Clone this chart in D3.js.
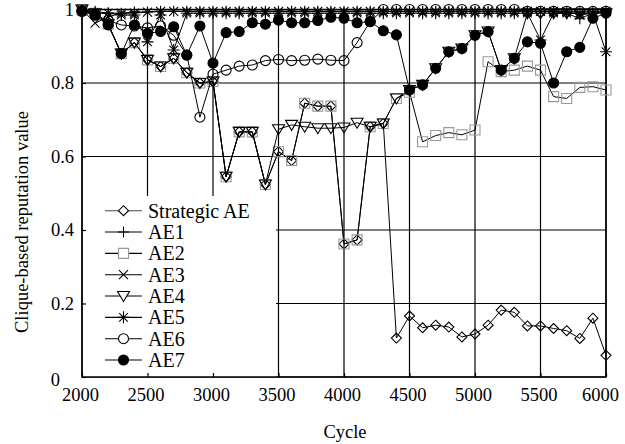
<!DOCTYPE html>
<html>
<head>
<meta charset="utf-8">
<script src="https://cdn.jsdelivr.net/npm/d3@7"></script>
<style>
  html, body { margin: 0; padding: 0; background: #fff; }
  svg { display: block; }
</style>
</head>
<body>
<svg id="chart" width="625" height="444"></svg>
<script>
const cycles = [2000,2100,2200,2300,2400,2500,2600,2700,2800,2900,3000,3100,3200,3300,3400,3500,3600,3700,3800,3900,4000,4100,4200,4300,4400,4500,4600,4700,4800,4900,5000,5100,5200,5300,5400,5500,5600,5700,5800,5900,6000];

const strategicAE = [1.0,0.99,0.96,0.88,0.91,0.863,0.845,0.867,0.828,0.80,0.804,0.545,0.667,0.667,0.524,0.613,0.589,0.745,0.737,0.737,0.362,0.373,0.681,0.69,0.106,0.166,0.134,0.141,0.136,0.109,0.117,0.141,0.182,0.176,0.139,0.139,0.132,0.126,0.105,0.16,0.059];
const ae1 = [1.0,0.995,0.99,0.99,0.993,0.993,0.995,0.995,0.995,0.995,0.995,0.995,0.995,0.995,0.995,0.995,0.995,0.995,0.995,0.995,0.995,0.995,0.995,0.995,0.995,0.995,0.995,0.995,0.995,0.995,0.995,0.995,0.995,0.995,0.995,0.995,0.995,0.99,0.975,0.99,0.995];
const ae2 = [1.0,0.99,0.96,0.88,0.91,0.863,0.845,0.867,0.828,0.80,0.804,0.545,0.667,0.667,0.524,0.613,0.589,0.745,0.737,0.737,0.362,0.373,0.681,0.69,0.758,0.775,0.64,0.657,0.665,0.659,0.672,0.858,0.831,0.835,0.846,0.835,0.763,0.758,0.788,0.79,0.781];
const ae3 = [1.0,0.963,0.98,0.99,0.99,0.993,0.995,0.995,0.995,0.995,0.995,0.995,0.995,0.995,0.995,0.995,0.995,0.995,0.995,0.995,0.995,0.995,0.995,0.995,0.995,0.995,0.995,0.995,0.995,0.995,0.995,0.995,0.995,0.995,0.995,0.995,0.995,0.995,0.985,0.99,0.995];
const ae4 = [1.0,0.99,0.96,0.88,0.91,0.863,0.845,0.867,0.828,0.80,0.804,0.545,0.667,0.667,0.524,0.674,0.686,0.681,0.677,0.677,0.679,0.692,0.681,0.69,0.758,0.781,0.795,0.84,0.885,0.894,0.93,0.94,0.835,0.867,0.99,0.99,0.99,0.99,0.99,0.99,0.99];
const ae5 = [0.995,0.99,0.99,0.985,0.985,0.912,0.985,0.89,0.99,0.99,0.99,0.99,0.99,0.99,0.99,0.99,0.99,0.99,0.99,0.99,0.99,0.99,0.99,0.99,0.99,0.99,0.99,0.99,0.99,0.99,0.99,0.99,0.99,0.99,0.99,0.917,0.99,0.99,0.99,0.99,0.885];
const ae6 = [0.995,0.985,0.97,0.958,0.955,0.95,0.955,0.93,0.876,0.707,0.824,0.835,0.846,0.849,0.861,0.864,0.861,0.862,0.865,0.862,0.861,0.91,0.967,1.0,1.0,1.0,1.0,1.0,1.0,1.0,1.0,1.0,1.0,1.0,0.995,0.995,0.995,0.995,0.995,0.995,0.995];
const ae7 = [0.995,0.985,0.958,0.88,0.958,0.935,0.94,0.953,0.876,0.955,0.854,0.937,0.94,0.964,0.96,0.971,0.964,0.964,0.97,0.979,0.976,0.964,0.967,0.942,0.931,0.781,0.795,0.84,0.885,0.894,0.93,0.94,0.835,0.867,0.912,0.908,0.80,0.885,0.897,0.976,0.99];

const seriesNames = ["Strategic AE","AE1","AE2","AE3","AE4","AE5","AE6","AE7"];
const seriesValues = [strategicAE, ae1, ae2, ae3, ae4, ae5, ae6, ae7];
const xTicks = [2000,2500,3000,3500,4000,4500,5000,5500,6000];
const yTicks = [0,0.2,0.4,0.6,0.8,1];
const yTickLabels = ["0","0.2","0.4","0.6","0.8","1"];
const xTitle = "Cycle";
const yTitle = "Clique-based reputation value";

const FONT = "'Liberation Serif', 'Times New Roman', Tinos, 'DejaVu Serif', serif";
const L = 82, R = 606, T = 9.5, B = 377;
const svg = d3.select("#chart");
const x = d3.scaleLinear().domain([2000,6000]).range([L,R]);
const y = d3.scaleLinear().domain([0,1]).range([B,T]);

const markerDef = {
  "Strategic AE": {d:"M0,-5L5,0L0,5L-5,0Z", fill:"none", stroke:"#000"},
  "AE1": {d:"M-5.5,0H5.5M0,-5.5V5.5", fill:"none", stroke:"#000"},
  "AE2": {d:"M-5,-5H5V5H-5Z", fill:"none", stroke:"#999"},
  "AE3": {d:"M-4.5,-4.5L4.5,4.5M-4.5,4.5L4.5,-4.5", fill:"none", stroke:"#000"},
  "AE4": {d:"M-6,-4.5L6,-4.5L0,5.5Z", fill:"none", stroke:"#000"},
  "AE5": {d:"M-6,0H6M0,-6V6M-4.3,-4.3L4.3,4.3M-4.3,4.3L4.3,-4.3", fill:"none", stroke:"#000"},
  "AE6": {d:"M5,0A5,5 0 1,1 -5,0A5,5 0 1,1 5,0Z", fill:"none", stroke:"#000"},
  "AE7": {d:"M5,0A5,5 0 1,1 -5,0A5,5 0 1,1 5,0Z", fill:"#000", stroke:"#000"}
};

// grid
const grid = svg.append("g");
xTicks.forEach(t => grid.append("line").attr("x1", x(t)).attr("x2", x(t)).attr("y1", T).attr("y2", B)
  .attr("stroke", "#000").attr("stroke-width", 1.2));
yTicks.forEach(t => grid.append("line").attr("x1", L).attr("x2", R).attr("y1", y(t)).attr("y2", y(t))
  .attr("stroke", "#000").attr("stroke-width", 1.2));

// legend background (covers grid)
svg.append("rect").attr("x", L + 1).attr("y", 196).attr("width", 276 - L - 1).attr("height", B - 196)
  .attr("fill", "#fff");

// axes with inward ticks
const xAxis = svg.append("g").attr("transform", `translate(0,${B})`)
  .call(d3.axisBottom(x).tickValues(xTicks).tickSize(-4).tickPadding(11).tickFormat(d3.format("d")));
const yAxis = svg.append("g").attr("transform", `translate(${L},0)`)
  .call(d3.axisLeft(y).tickValues(yTicks).tickSize(-4).tickPadding(8).tickFormat((d,i) => yTickLabels[i]));
[xAxis, yAxis].forEach(a => {
  a.attr("font-family", FONT).attr("font-size", 18);
  a.select(".domain").remove();
  a.selectAll(".tick line").attr("stroke", "#000").attr("stroke-width", 1.2);
  a.selectAll(".tick text").attr("font-family", FONT).attr("font-size", 18.5).attr("fill", "#000");
});
xAxis.selectAll(".tick text").attr("dx", (d) => d === 6000 ? -6 : -2);
yAxis.selectAll(".tick text").attr("dx", (d) => d === 0 ? -14 : 0).attr("dy", (d) => d === 0 ? "0.45em" : "0.32em");

// frame
svg.append("rect").attr("x", L).attr("y", T).attr("width", R - L).attr("height", B - T)
  .attr("fill", "none").attr("stroke", "#000").attr("stroke-width", 1.5);

// series
const line = d3.line().x((d,i) => x(cycles[i])).y(d => y(d));
const plot = svg.append("g");
seriesNames.forEach((name, si) => {
  const vals = seriesValues[si];
  const m = markerDef[name];
  plot.append("path").attr("d", line(vals)).attr("fill", "none").attr("stroke", "#000").attr("stroke-width", 1);
  plot.selectAll(null).data(vals).enter().append("path")
    .attr("transform", (d,i) => `translate(${x(cycles[i])},${y(d)})`)
    .attr("d", m.d).attr("fill", m.fill).attr("stroke", m.stroke).attr("stroke-width", 1.1);
});

// legend
const leg = svg.append("g");
const legY0 = 210.7, legStep = 21.33;
seriesNames.forEach((name, i) => {
  const yy = legY0 + i * legStep;
  const m = markerDef[name];
  leg.append("line").attr("x1", 105).attr("x2", 142).attr("y1", yy).attr("y2", yy)
    .attr("stroke", i === 0 ? "#444" : "#000").attr("stroke-width", 1.1);
  leg.append("path").attr("transform", `translate(123.5,${yy})`).attr("d", m.d)
    .attr("fill", m.fill === "none" ? "#fff" : m.fill).attr("stroke", m.stroke).attr("stroke-width", 1.1);
  leg.append("text").attr("x", 148).attr("y", yy).attr("dy", "0.35em")
    .attr("font-family", FONT).attr("font-size", 20).attr("fill", "#000").text(name);
});

// titles
svg.append("text").attr("x", 345).attr("y", 432).attr("text-anchor", "middle").attr("dy", "0.35em")
  .attr("font-family", FONT).attr("font-size", 18.5).attr("fill", "#000").text(xTitle);
svg.append("text").attr("transform", "translate(22,222) rotate(-90)").attr("text-anchor", "middle").attr("dy", "0.35em")
  .attr("font-family", FONT).attr("font-size", 18.5).attr("fill", "#000").text(yTitle);
</script>
</body>
</html>
